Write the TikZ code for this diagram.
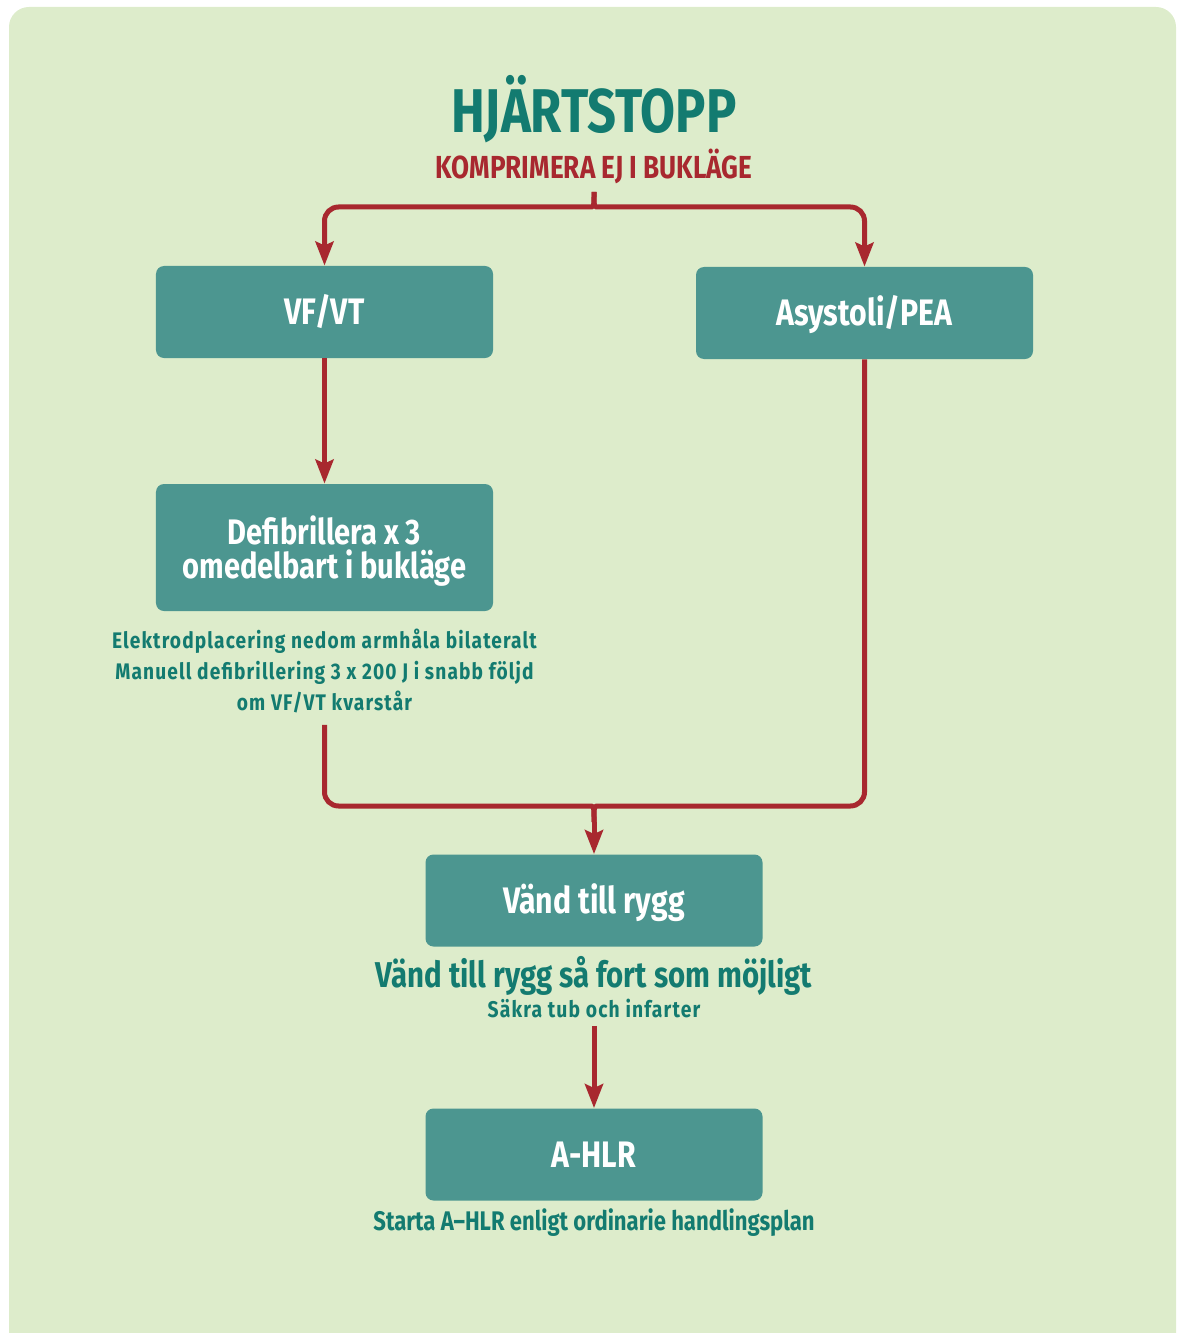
\documentclass[tikz,border=0pt]{standalone}
\usepackage{fontspec}
\usetikzlibrary{arrows.meta}
\newfontfamily\condfont[FakeStretch=0.82]{Fira Sans}
\newfontfamily\notefont[FakeStretch=0.85,LetterSpace=5]{Fira Sans}
\definecolor{bggreen}{HTML}{DDECCB}
\definecolor{boxteal}{HTML}{4C9690}
\definecolor{textteal}{HTML}{137B70}
\definecolor{flowred}{HTML}{A8282F}
\tikzset{
  stepbox/.style={fill=boxteal,rounded corners=4bp,minimum width=168.5bp,minimum height=46bp,
    inner sep=0pt,text=white,align=center,text height=12.7bp,text depth=0pt,
    font=\condfont\bfseries\fontsize{18.5}{17}\selectfont},
  note/.style={text=textteal,align=center,inner sep=0pt,anchor=base,font=\condfont\bfseries},
  link/.style={draw=flowred,line width=2.5bp,rounded corners=7bp},
  flow/.style={link,-{Stealth[length=12bp,width=9bp,inset=2bp]}},
}
\begin{document}
\begin{tikzpicture}[x=0.5bp,y=-0.5bp,line join=round]
\useasboundingbox (0,0) rectangle (1182,1333);
\fill[bggreen,rounded corners=10bp] (9,7) rectangle (1176,1400);
%%
\node (title) at (594,133) [note,font=\condfont\bfseries\fontsize{31}{31}\selectfont] {HJÄRTSTOPP};
\node (warn) at (594,179) [note,text=flowred,font=\condfont\bfseries\fontsize{16}{16}\selectfont] {KOMPRIMERA EJ I BUKLÄGE};
\coordinate (split) at (594,192);
%
\node (vfvt) at (324.5,312) [stepbox] {VF/VT};
\node (asys) at (864.5,313) [stepbox] {Asystoli/PEA};
\node (defib) at (324.5,547.5) [stepbox,minimum height=63.5bp,text height=,
  font=\condfont\bfseries\fontsize{17.8}{17}\selectfont] {Defibrillera x 3\\omedelbart i bukläge};
\node (defibnote) at (324.5,710) [note,font=\notefont\bfseries\fontsize{11.3}{15.5}\selectfont]
  {Elektrodplacering nedom armhåla bilateralt\\Manuell defibrillering 3 x 200 J i snabb följd\\om VF/VT kvarstår};
%
\node (vand) at (594,900.5) [stepbox] {Vänd till rygg};
\node (vandnote) at (594,987) [note,font=\condfont\bfseries\fontsize{18}{18}\selectfont] {Vänd till rygg så fort som möjligt};
\node (tubnote) at (594,1017) [note,font=\notefont\bfseries\fontsize{11.4}{11.4}\selectfont] {Säkra tub och infarter};
\node (ahlr) at (594,1154.5) [stepbox] {A-HLR};
\node (ahlrnote) at (594,1230) [note,font=\condfont\bfseries\fontsize{13.5}{13.5}\selectfont] {Starta A–HLR enligt ordinarie handlingsplan};
%
\coordinate (merge) at (594,822);
\draw [flow] (split) .. controls (594,207) .. (576,207) -| (vfvt.north);
\draw [flow] (split) .. controls (594,207) .. (612,207) -| (asys.north);
\draw [flow] (vfvt) -- (defib);
\draw [link] ([yshift=-6bp]defibnote.south) |- (576,806) .. controls (594,806) .. (merge);
\draw [link] (asys.south) |- (612,806) .. controls (594,806) .. (merge);
\draw [flow] (merge) -- (vand.north);
\draw [flow] ([yshift=-4bp]tubnote.south) -- (ahlr.north);
%
\end{tikzpicture}
\end{document}
